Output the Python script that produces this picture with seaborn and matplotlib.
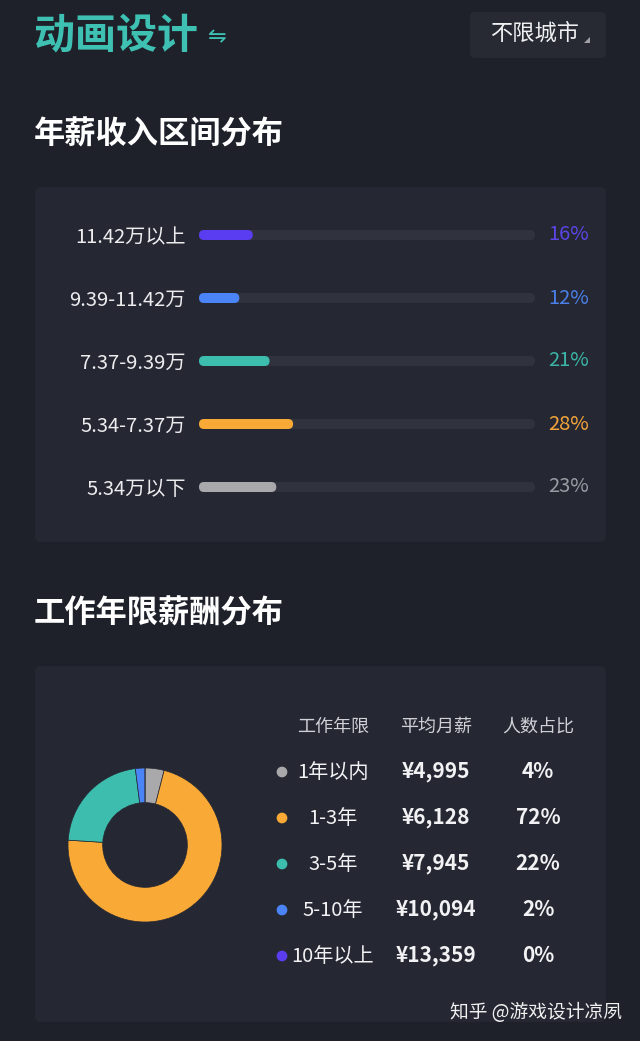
import matplotlib
matplotlib.use("Agg")
import matplotlib.pyplot as plt
from matplotlib.patches import FancyBboxPatch, Polygon
import seaborn as sns
import pandas as pd

# data
salary_ranges = ["11.42万以上", "9.39-11.42万", "7.37-9.39万", "5.34-7.37万", "5.34万以下"]
salary_share = [16, 12, 21, 28, 23]
salary_colors = ["#5a3df0", "#4a84f7", "#3dbdae", "#f9a935", "#a9a9ab"]
pct_colors = ["#5b45e6", "#4a7fe8", "#3ab5a6", "#f2a43a", "#9a9ca3"]

years = ["1年以内", "1-3年", "3-5年", "5-10年", "10年以上"]
monthly_pay = ["¥4,995", "¥6,128", "¥7,945", "¥10,094", "¥13,359"]
year_share = [4, 72, 22, 2, 0]
year_colors = ["#a9a9ab", "#f9a935", "#3dbdae", "#4a84f7", "#5a3df0"]
table_header = ["工作年限", "平均月薪", "人数占比"]

BG = "#1e212a"
CARD = "#252833"
TRACK = "#30333e"
TEAL = "#3ec1b2"
W, H = 640, 1041

sns.set_theme(style="dark")
plt.rcParams['font.family'] = ['Noto Sans CJK SC', 'DejaVu Sans']

fig = plt.figure(figsize=(W / 100, H / 100), dpi=100, facecolor=BG)

# background layer in pixel coords
bg = fig.add_axes([0, 0, 1, 1])
bg.set_xlim(0, W)
bg.set_ylim(H, 0)
bg.axis("off")
bg.set_facecolor(BG)

def card(x0, y0, x1, y1, color, r=6):
    bg.add_patch(FancyBboxPatch((x0 + r, y0 + r), x1 - x0 - 2 * r, y1 - y0 - 2 * r,
                                boxstyle=f"round,pad={r}", fc=color, ec="none"))

card(35, 187, 606, 542, CARD)
card(35, 666, 606, 1022, CARD)
card(470, 12, 606, 58, "#272a33", r=5)

bg.text(34, 36, "动画设计", color=TEAL, fontsize=29.5, fontweight="bold", va="center", ha="left")
bg.text(208, 37, "⇋", color=TEAL, fontsize=16, va="center", ha="left", family=['DejaVu Sans'])
bg.text(490, 33, "不限城市", color="#f0f0f2", fontsize=16, va="center", ha="left")
bg.add_patch(Polygon([[590, 37], [590, 43], [584, 43]], closed=True, fc="#a0a2a8", ec="none"))

bg.text(34, 135, "年薪收入区间分布", color="white", fontsize=22.5, fontweight="bold", va="center")
bg.text(34, 614, "工作年限薪酬分布", color="white", fontsize=22.5, fontweight="bold", va="center")

# income bars (axes spans 199..535 px, rows 63 px apart)
ax_w, ax_h = 336, 315
ax = fig.add_axes([199 / W, (H - 518.5) / H, ax_w / W, ax_h / H])
ax.set_facecolor("none")
df = pd.DataFrame({"range": salary_ranges, "share": salary_share, "full": [100] * 5})
bar_w = 10 / 63
sns.barplot(data=df, x="full", y="range", orient="h", color=TRACK, width=bar_w,
            saturation=1, errorbar=None, ax=ax)
sns.barplot(data=df, x="share", y="range", orient="h", hue="range", palette=salary_colors,
            width=bar_w, saturation=1, errorbar=None, legend=False, ax=ax)
ax.set_xlim(0, 100)
ax.set_ylim(4.5, -0.5)

# swap the square bars for rounded ones with the same bounds
xu = 100 / ax_w
yu = 5 / ax_h
for p in list(ax.patches):
    x0, y0, w, h = p.get_x(), p.get_y(), p.get_width(), p.get_height()
    ax.add_patch(FancyBboxPatch((x0, y0), w, h, boxstyle=f"round,pad=0,rounding_size={5 * xu}",
                                mutation_aspect=yu / xu, fc=p.get_facecolor(), ec="none",
                                zorder=p.get_zorder()))
    p.set_visible(False)

ax.set_xlabel("")
ax.set_ylabel("")
ax.set_xticks([])
for s in ax.spines.values():
    s.set_visible(False)
ax.grid(False)
ax.tick_params(axis="y", length=0, pad=9.5, labelsize=14.5, labelcolor="#ececee")
for i, (v, c) in enumerate(zip(salary_share, pct_colors)):
    ax.text(1.16, i, f"{v}%", color=c, fontsize=14.5, ha="right", va="center",
            transform=ax.get_yaxis_transform())

# donut
axp = fig.add_axes([68 / W, (H - 922) / H, 154 / W, 154 / H])
axp.pie(year_share, colors=year_colors, startangle=90, counterclock=False,
        wedgeprops=dict(width=0.45, edgecolor=CARD, linewidth=0.5))
axp.set_xlim(-1, 1)
axp.set_ylim(-1, 1)
axp.set_aspect("equal")

# table
col_x = [333, 436, 538]
for x, t in zip(col_x, table_header):
    bg.text(x, 727, t, color="#d0d1d6", fontsize=13, ha="center", va="center")
row_y = [772 + 46 * i for i in range(len(years))]
bg.scatter([282] * len(years), row_y, s=45, c=year_colors, zorder=3)
for y, yr, pay, sh in zip(row_y, years, monthly_pay, year_share):
    bg.text(col_x[0], y, yr, color="#f2f2f4", fontsize=14.5, ha="center", va="center")
    bg.text(col_x[1], y, pay, color="#f2f2f4", fontsize=15, fontweight="bold", ha="center", va="center")
    bg.text(col_x[2], y, f"{sh}%", color="#f2f2f4", fontsize=15, fontweight="bold", ha="center", va="center")

bg.text(622, 1013, "知乎 @游戏设计凉夙", color="#f0f0f0", fontsize=13.5, ha="right", va="center")

fig.savefig("out.png", dpi=100, facecolor=BG)
